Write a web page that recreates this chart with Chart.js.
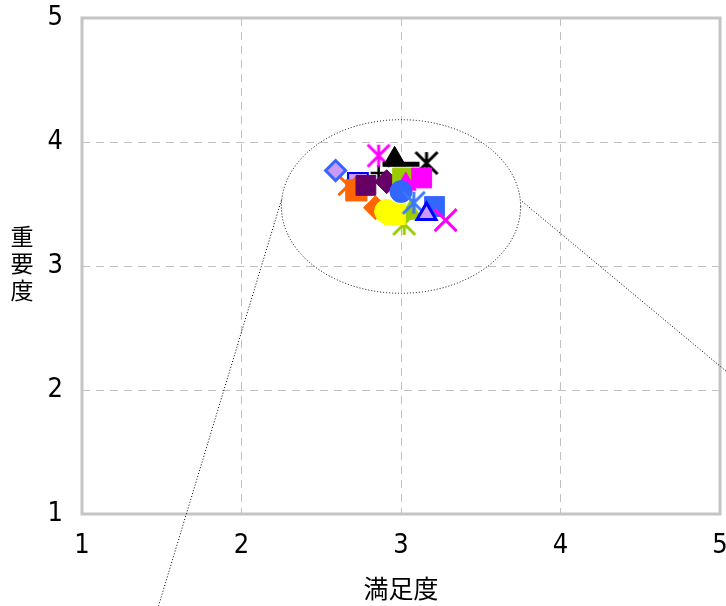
<!DOCTYPE html>
<html lang="ja">
<head>
    <meta charset="UTF-8">
    <script src="https://cdn.jsdelivr.net/npm/chart.js"></script>
    <title>満足度と重要度</title>
</head>
<style>
    body{
        margin: 0;
        background: #fff;
    }
    .wrap{
        position: relative;
        width: 726px;
        height: 606px;
    }
    .y-title{
        position: absolute;
        left: 9px;
        top: 222px;
        width: 26px;
        font-family: "Noto Sans CJK JP";
        font-size: 23px;
        line-height: 27px;
        text-align: center;
        color: #000;
    }
</style>
<body>

<div class="wrap">
    <canvas id="matrixChart" width="726" height="606"></canvas>
    <div class="y-title">重<br>要<br>度</div>
</div>

<script>
    // one point per item, listed bottom layer first
    const satisfaction = [2.73, 2.67, 2.72, 2.86, 2.78, 2.91, 2.86, 3.00, 2.96, 3.16, 3.01, 3.13,
                          3.03, 3.00, 2.84, 3.06, 3.02, 2.91, 2.96, 3.08, 3.21, 3.16, 3.28, 2.59];
    const importance   = [3.67, 3.65, 3.61, 3.75, 3.65, 3.68, 3.89, 3.82, 3.86, 3.83, 3.71, 3.71,
                          3.66, 3.60, 3.47, 3.43, 3.34, 3.44, 3.42, 3.51, 3.48, 3.42, 3.37, 3.77];
    const axisTicks = [1, 2, 3, 4, 5];

    // marker look for each point
    const shapes  = ['rect', 'crossRot', 'rect', 'cross', 'rect', 'rectRot', 'asterisk', 'line', 'triangle', 'asterisk', 'rect', 'rect',
                     'triangle', 'circle', 'rectRot', 'triangle', 'asterisk', 'circle', 'rect', 'asterisk', 'rect', 'triangle', 'crossRot', 'rectRot'];
    const fills   = ['#cc99ff', '#ff6600', '#ff6600', '#000000', '#660066', '#660066', '#ff00ff', '#000000', '#000000', '#000000', '#99cc00', '#ff00ff',
                     '#ff00ff', '#3366ff', '#ff6600', '#99cc00', '#99cc00', '#ffff00', '#ffff00', '#3366ff', '#3366ff', '#cc99ff', '#ff00ff', '#cc99ff'];
    const edges   = ['#0000ff', '#ff6600', '#ff6600', '#000000', '#660066', '#660066', '#ff00ff', '#000000', '#000000', '#000000', '#99cc00', '#ff00ff',
                     '#ff00ff', '#3366ff', '#ff6600', '#99cc00', '#99cc00', '#ffff00', '#ffff00', '#3b78ff', '#3366ff', '#0000ff', '#ff00ff', '#3366ff'];
    const sizes   = [14, 14, 15, 8, 14, 12, 11, 18.5, 13, 11, 14, 14,
                     12, 11, 12, 13, 11, 12, 15, 11, 14, 11, 15.5, 10];
    const strokes = [2, 3, 1, 2.5, 1, 1, 3, 5, 1, 3, 1, 1,
                     1, 1, 1, 1, 3, 1, 1, 3, 1, 3, 3, 3];

    // dotted "zoom" ellipse round the cluster and its two lines
    const zoomCenter = [3.0, 3.48];
    const zoomRadius = [0.75, 0.70];
    const callouts = [
        [[2.25, 3.53], [1.48, 0.26]],
        [[3.76, 3.52], [5.04, 2.15]],
    ];

    const numFont = "'Liberation Sans Narrow', 'DejaVu Sans Condensed', sans-serif";

    // Excel style asterisk: an X plus a vertical stroke
    function asterisk(color, r, w) {
        const c = document.createElement('canvas');
        const half = Math.ceil(r + w);
        c.width = c.height = half * 2;
        const g = c.getContext('2d');
        g.strokeStyle = color;
        g.lineWidth = w;
        g.beginPath();
        g.moveTo(half - r, half - r); g.lineTo(half + r, half + r);
        g.moveTo(half + r, half - r); g.lineTo(half - r, half + r);
        g.moveTo(half, half - r); g.lineTo(half, half + r);
        g.stroke();
        return c;
    }
    const pointStyles = shapes.map((s, i) => s === 'asterisk' ? asterisk(edges[i], sizes[i], strokes[i]) : s);

    const frameAndZoom = {
        id: 'frameAndZoom',
        beforeDatasetsDraw(chart) {
            const {ctx, chartArea: a, scales: {x, y}} = chart;
            ctx.save();
            ctx.strokeStyle = '#c4c4c4';
            ctx.lineWidth = 3;
            ctx.strokeRect(a.left, a.top, a.right - a.left, a.bottom - a.top);

            ctx.strokeStyle = '#000';
            ctx.lineWidth = 1;
            ctx.setLineDash([1, 2]);
            const cx = x.getPixelForValue(zoomCenter[0]);
            const cy = y.getPixelForValue(zoomCenter[1]);
            const rx = Math.abs(x.getPixelForValue(zoomCenter[0] + zoomRadius[0]) - cx);
            const ry = Math.abs(y.getPixelForValue(zoomCenter[1] + zoomRadius[1]) - cy);
            ctx.beginPath();
            ctx.ellipse(cx, cy, rx, ry, 0, 0, Math.PI * 2);
            ctx.stroke();
            callouts.forEach(([p, q]) => {
                ctx.beginPath();
                ctx.moveTo(x.getPixelForValue(p[0]), y.getPixelForValue(p[1]));
                ctx.lineTo(x.getPixelForValue(q[0]), y.getPixelForValue(q[1]));
                ctx.stroke();
            });
            ctx.restore();
        }
    };

    const fixX = scale => {
        scale.height = 92;
        scale.paddingLeft = 0;
        scale.paddingRight = 0;
    };
    const fixY = scale => {
        scale.width = 82;
        scale.paddingTop = 0;
        scale.paddingBottom = 0;
    };
    const useTicks = scale => {
        scale.ticks = axisTicks.map(v => ({value: v}));
    };

    new Chart(document.getElementById('matrixChart'), {
        type: 'scatter',
        data: {
            datasets: [{
                label: '項目',
                data: satisfaction.map((v, i) => ({x: v, y: importance[i]})),
                pointStyle: pointStyles,
                pointRadius: sizes,
                pointHoverRadius: sizes,
                pointBackgroundColor: fills,
                pointBorderColor: edges,
                pointBorderWidth: strokes,
            }],
        },
        options: {
            responsive: false,
            animation: false,
            layout: {
                autoPadding: false,
                padding: {top: 18, right: 6, bottom: 0, left: 0},
            },
            plugins: {
                legend: {display: false},
                tooltip: {enabled: false},
            },
            scales: {
                x: {
                    min: 1,
                    max: 5,
                    afterBuildTicks: useTicks,
                    afterFit: fixX,
                    grid: {color: '#c0c0c0', drawTicks: false},
                    border: {display: false, dash: [8, 6]},
                    ticks: {
                        color: '#000',
                        padding: 0,
                        maxRotation: 0,
                        font: {family: numFont, size: 27, lineHeight: 2.37},
                    },
                    title: {
                        display: true,
                        text: '満足度',
                        color: '#000',
                        padding: {top: 0, bottom: 3},
                        font: {family: "'Noto Sans CJK JP'", size: 25},
                    },
                },
                y: {
                    min: 1,
                    max: 5,
                    afterBuildTicks: useTicks,
                    afterFit: fixY,
                    grid: {color: '#c0c0c0', drawTicks: false},
                    border: {display: false, dash: [8, 6]},
                    ticks: {
                        color: '#000',
                        padding: 19,
                        font: {family: numFont, size: 27},
                    },
                },
            },
        },
        plugins: [frameAndZoom],
    });
</script>

</body>
</html>
